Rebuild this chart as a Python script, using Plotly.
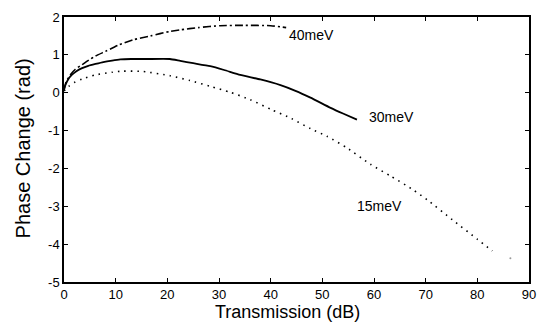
import plotly.graph_objects as go

# 40 meV (dash-dot)
x40 = [0, 0.4, 1.2, 2.2, 3.5, 4.8, 6.1, 8, 10.6, 13.5, 16.7, 20.5, 22.5, 26, 30.2, 35, 40, 41.9, 43]
y40 = [0.08, 0.28, 0.47, 0.62, 0.74, 0.86, 0.97, 1.09, 1.26, 1.4, 1.5, 1.62, 1.66, 1.72, 1.77, 1.78, 1.77, 1.74, 1.72]

# 30 meV (solid)
x30 = [0, 0.3, 0.8, 1.5, 2.4, 3.5, 4.7, 6.1, 7.6, 9.3, 10.9, 13, 16, 20.5, 22.5, 25, 28.3, 31, 34.1, 38, 41.9, 44.8, 47.7, 51.6, 54, 56.7]
y30 = [0.08, 0.21, 0.35, 0.47, 0.57, 0.65, 0.71, 0.76, 0.81, 0.85, 0.88, 0.89, 0.89, 0.89, 0.84, 0.78, 0.7, 0.6, 0.47, 0.35, 0.2, 0.05, -0.13, -0.4, -0.55, -0.71]

# 15 meV (dotted)
x15 = [0, 0.9, 2, 3.5, 6.1, 9.3, 11.4, 15.3, 20.5, 24.4, 28.3, 32.2, 36, 40.2, 44, 47.7, 50.9, 54.8, 59.3, 63.2, 67.4, 70.3, 75.2, 80, 82.9]
y15 = [0.05, 0.17, 0.27, 0.36, 0.47, 0.54, 0.57, 0.56, 0.45, 0.32, 0.17, 0.01, -0.18, -0.45, -0.68, -0.95, -1.15, -1.46, -1.89, -2.2, -2.55, -2.83, -3.36, -3.87, -4.18]

# stray point in the scan
xs = [86.4]
ys = [-4.37]

labels = ["40meV", "30meV", "15meV"]
label_x = [43.2, 58.7, 56.4]
label_y = [1.53, -0.63, -3.0]

x_ticks = [0, 10, 20, 30, 40, 50, 60, 70, 80, 90]
y_ticks = [2, 1, 0, -1, -2, -3, -4, -5]

fig = go.Figure()
fig.add_trace(go.Scatter(x=x40, y=y40, mode="lines", line=dict(color="black", width=1.6, dash="8px,3px,2px,3px", shape="spline", smoothing=0.6)))
fig.add_trace(go.Scatter(x=x30, y=y30, mode="lines", line=dict(color="black", width=1.8, shape="spline", smoothing=0.5)))
fig.add_trace(go.Scatter(x=x15, y=y15, mode="lines", line=dict(color="black", width=1.6, dash="1.5px,5px", shape="spline", smoothing=0.6)))
fig.add_trace(go.Scatter(x=xs, y=ys, mode="markers", marker=dict(color="#999", size=2)))

for t, lx, ly in zip(labels, label_x, label_y):
    fig.add_annotation(x=lx, y=ly, text=t, showarrow=False, xanchor="left",
                       font=dict(family="Arial, Liberation Sans", size=14, color="black"))

# axis titles
fig.add_annotation(x=0.48, y=0, xref="paper", yref="paper", yanchor="top", yshift=-18,
                   text="Transmission (dB)", showarrow=False,
                   font=dict(family="Arial, Liberation Sans", size=18, color="black"))
fig.add_annotation(x=0, y=0.504, xref="paper", yref="paper", xanchor="center", xshift=-41,
                   text="Phase Change (rad)", showarrow=False, textangle=-90,
                   font=dict(family="Arial, Liberation Sans", size=20, color="black"))

axis_common = dict(showline=True, linecolor="black", linewidth=1.5, mirror="allticks",
                   ticks="inside", ticklen=4, tickcolor="black", showgrid=False, zeroline=False,
                   automargin=False,
                   tickfont=dict(family="Liberation Sans Narrow, Arial Narrow, Arial", size=13, color="black"))

fig.update_xaxes(range=[0, 90], tickvals=x_ticks, ticktext=[str(v) for v in x_ticks], **axis_common)
fig.update_yaxes(range=[-5, 2], tickvals=y_ticks, ticktext=[str(v) for v in y_ticks], **axis_common)

fig.update_layout(width=539, height=315, margin=dict(l=56, r=18, t=9, b=41),
                  paper_bgcolor="white", plot_bgcolor="white", showlegend=False)

fig.write_html("out.html")
